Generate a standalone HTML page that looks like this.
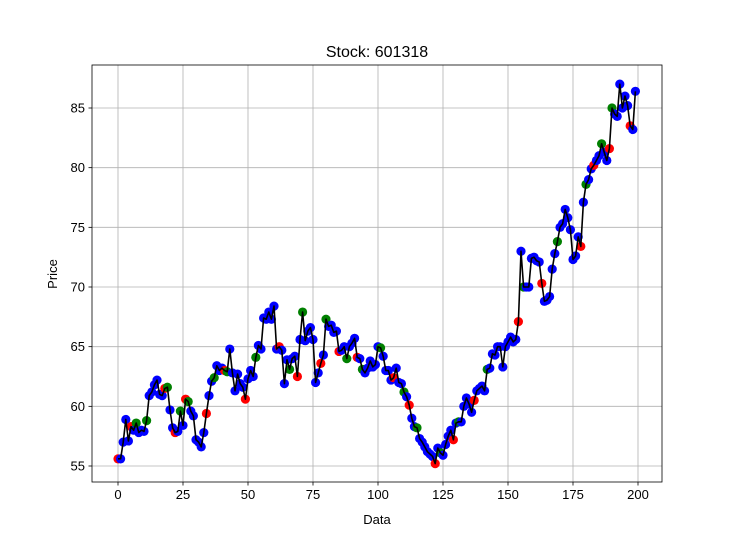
<!DOCTYPE html>
<html><head><meta charset="utf-8"><style>
body{margin:0;background:#fff}
svg text{font-family:"Liberation Sans","DejaVu Sans",sans-serif;fill:#000}
</style></head><body>
<svg id="chart" width="735" height="542" xmlns="http://www.w3.org/2000/svg"></svg>
<script>
const prices=[55.6,55.6,57.0,58.9,57.1,58.3,58.0,58.6,57.8,58.0,57.9,58.8,60.9,61.2,61.8,62.2,61.0,60.9,61.5,61.6,
59.7,58.2,57.8,57.9,59.6,58.4,60.6,60.4,59.6,59.2,57.2,57.0,56.6,57.8,59.4,60.9,62.1,62.4,63.4,63.0,
63.2,63.0,62.9,64.8,62.8,61.3,62.7,61.9,61.6,60.6,62.3,63.0,62.5,64.1,65.1,64.8,67.4,67.3,67.9,67.3,
68.4,64.8,65.0,64.7,61.9,63.9,63.1,64.0,64.2,62.5,65.6,67.9,65.5,66.3,66.6,65.6,62.0,62.8,63.6,64.3,
67.3,66.7,66.8,66.2,66.3,64.6,64.7,65.0,64.0,65.0,65.3,65.7,64.1,64.0,63.1,62.8,63.2,63.8,63.3,63.5,
65.0,64.9,64.2,63.0,63.0,62.2,62.4,63.2,62.0,61.9,61.2,60.8,60.1,59.0,58.3,58.2,57.3,57.0,56.6,56.2,
56.0,55.8,55.2,56.5,56.1,55.9,56.8,57.5,58.0,57.2,58.6,58.7,58.7,60.0,60.7,60.2,59.5,60.5,61.3,61.5,
61.7,61.3,63.1,63.2,64.4,64.3,65.0,65.0,63.3,65.0,65.4,65.8,65.4,65.6,67.1,73.0,70.0,70.0,70.0,72.4,
72.5,72.2,72.1,70.3,68.8,68.9,69.2,71.5,72.8,73.8,75.0,75.3,76.5,75.8,74.8,72.3,72.6,74.2,73.4,77.1,
78.6,79.0,79.9,80.2,80.6,81.0,82.0,81.3,80.6,81.6,85.0,84.5,84.3,87.0,85.0,86.0,85.2,83.5,83.2,86.4];
const redIdx=[0,5,18,22,26,34,41,49,62,69,78,85,92,106,112,122,129,137,154,163,178,183,189,197];
const greenIdx=[7,11,19,24,27,37,42,53,66,71,80,88,94,101,110,115,124,131,142,156,169,180,186,190];
const xTicks=[0,25,50,75,100,125,150,175,200];
const yTicks=[55,60,65,70,75,80,85];

const NS="http://www.w3.org/2000/svg";
const svg=document.getElementById('chart');
const L=92,R=662,T=65,B=482;
const xS=v=>118+v*2.6;
const yS=v=>466-(v-55)*(358/30);
function mk(tag,attrs,parent){const e=document.createElementNS(NS,tag);for(const k in attrs)e.setAttribute(k,attrs[k]);(parent||svg).appendChild(e);return e;}

xTicks.forEach(t=>{
  const g=mk('line',{x1:xS(t),x2:xS(t),y1:T,y2:B,stroke:'#b0b0b0','stroke-width':0.8});
  
  
  mk('line',{x1:xS(t),x2:xS(t),y1:B,y2:B+3.5,stroke:'#000','stroke-width':0.8});
  const tx=mk('text',{x:xS(t),y:B+17,'text-anchor':'middle','font-size':13});
  tx.textContent=t;
  
  
});
yTicks.forEach(t=>{
  const g=mk('line',{x1:L,x2:R,y1:yS(t),y2:yS(t),stroke:'#b0b0b0','stroke-width':0.8});
  
  
  mk('line',{x1:L-3.5,x2:L,y1:yS(t),y2:yS(t),stroke:'#000','stroke-width':0.8});
  const tx=mk('text',{x:L-7,y:yS(t)+4.5,'text-anchor':'end','font-size':13});
  tx.textContent=t;
  
  
});

prices.forEach((v,i)=>{
  let c='#0000ff';
  if(redIdx.includes(i))c='#ff0000';
  if(greenIdx.includes(i))c='#008000';
  const p=mk('circle',{cx:xS(i),cy:yS(v),r:4.6,fill:c});
  
  
});
const line=mk('polyline',{points:prices.map((v,i)=>xS(i)+','+yS(v)).join(' '),fill:'none',stroke:'#000','stroke-width':1.6,'stroke-linejoin':'round'});



const frame=mk('rect',{x:L,y:T,width:R-L,height:B-T,fill:'none',stroke:'#000','stroke-width':0.8});



const title=mk('text',{x:377,y:57,'text-anchor':'middle','font-size':16});
title.textContent='Stock: 601318';


const xl=mk('text',{x:377,y:524,'text-anchor':'middle','font-size':13});
xl.textContent='Data';


const yl=mk('text',{x:57,y:274,'text-anchor':'middle','font-size':13,transform:'rotate(-90 57 274)'});
yl.textContent='Price';


</script>
</body></html>
